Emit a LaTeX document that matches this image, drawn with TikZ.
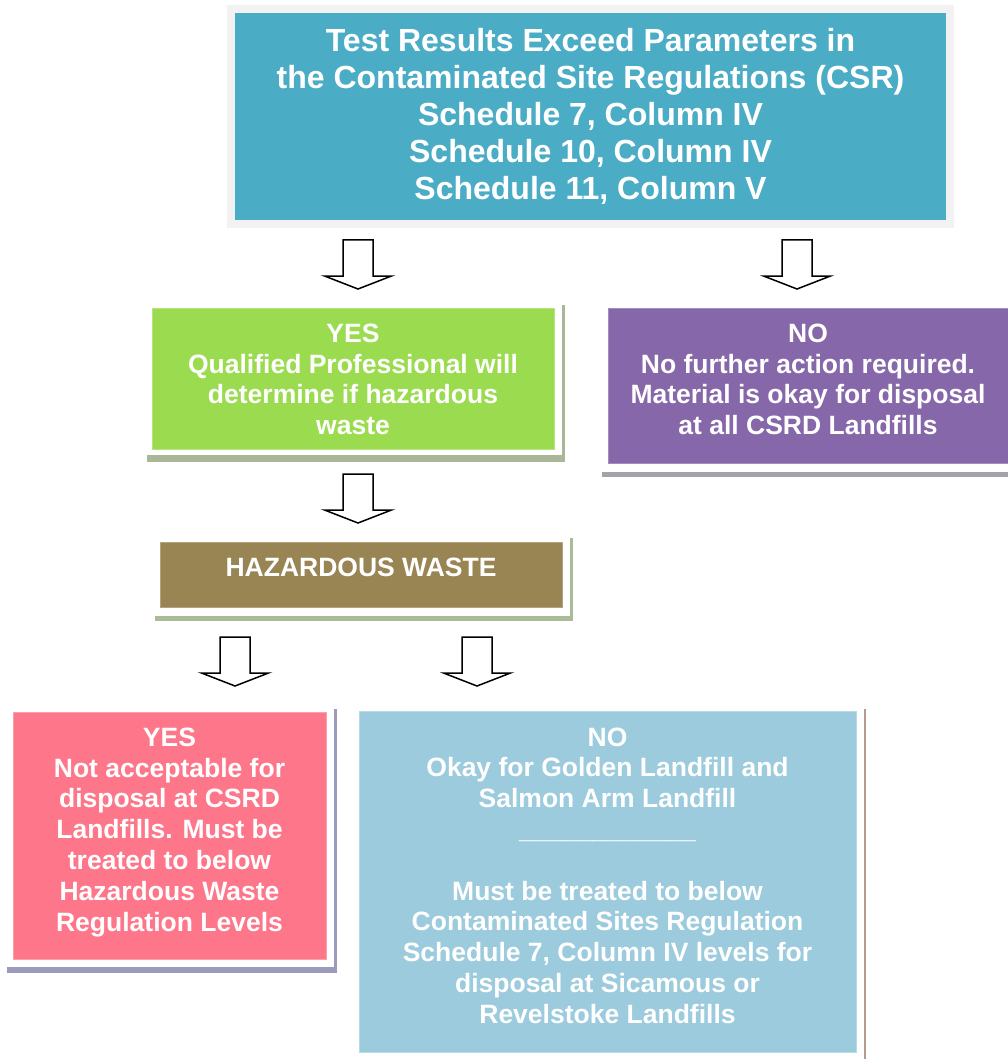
\documentclass[tikz,border=0pt]{standalone}
\usepackage{fontspec}
\setmainfont{Liberation Sans}
\definecolor{tealc}{HTML}{4BACC6}
\definecolor{framec}{HTML}{F2F2F2}
\definecolor{greenc}{HTML}{9BDB4F}
\definecolor{purplec}{HTML}{8667A9}
\definecolor{olivec}{HTML}{988553}
\definecolor{pinkc}{HTML}{FE7689}
\definecolor{bluec}{HTML}{9BCBDD}
\definecolor{gshadow}{HTML}{A9B697}
\definecolor{pshadow}{HTML}{A3A3AB}
\definecolor{oshadow}{HTML}{ABBB98}
\definecolor{kshadow}{HTML}{9B9BBD}
\definecolor{bshadow}{HTML}{B79A8D}
\tikzset{
  boxn/.style={rectangle, inner sep=0pt, outer sep=0pt, line width=0.8pt},
  txt/.style={text=white, font=\fontsize{26.5}{30.8}\selectfont\bfseries, align=center, inner sep=0pt},
  toptxt/.style={text=white, font=\fontsize{32}{36.9}\selectfont\bfseries, align=center, inner sep=0pt},
  blockarrow/.style={draw=black, fill=white, line width=1.5pt, line join=miter}
}
\newcommand{\barrow}[3]{%
  \coordinate (#1) at (#2,#3);
  \draw[blockarrow] (#1) ++(-15,0) -- ++(30,0) -- ++(0,36) -- ++(18.5,0)
     -- ++(-33.5,13) -- ++(-33.5,-13) -- ++(18.5,0) -- cycle;}
\begin{document}
\begin{tikzpicture}[x=1pt,y=-1pt]
\useasboundingbox (0,0) rectangle (1008,1059);
\fill[white] (0,0) rectangle (1008,1059);

% top box
\fill[framec] (227,5) rectangle (954,228);
\node[boxn, fill=tealc, minimum width=711pt, minimum height=207pt] (top) at (590.5,116.5) {};
\node[toptxt] (toptext) at (590.5,116.6) {Test Results Exceed Parameters in\\the Contaminated Site Regulations (CSR)\\Schedule 7, Column IV\\Schedule 10, Column IV\\Schedule 11, Column V};

% green box
\fill[gshadow] (147,305) rectangle (565,462);
\fill[white] (146,303) rectangle (562,455);
\node[boxn, fill=greenc, draw=greenc!75!white, minimum width=402pt, minimum height=141pt] (yes1) at (353,378.5) {};
\node[txt] (yes1text) at (353,379.3) {YES\\Qualified Professional will\\determine if hazardous\\waste};

% purple box
\fill[pshadow] (602,304) rectangle (1012,477);
\fill[white] (600,302) rectangle (1012,472);
\node[boxn, fill=purplec, draw=purplec!75!white, minimum width=402pt, minimum height=155pt] (no1) at (809,385.5) {};
\node[txt] (no1text) at (808,379.3) {NO\\No further action required.\\Material is okay for disposal\\at all CSRD Landfills};

% hazardous box
\fill[oshadow] (155,538) rectangle (573,621);
\fill[white] (153,536) rectangle (570,616);
\node[boxn, fill=olivec, draw=olivec!75!white, minimum width=402pt, minimum height=65pt] (haz) at (361,574.5) {};
\node[txt] (haztext) at (361,567.5) {HAZARDOUS WASTE};

% pink box
\fill[kshadow] (7,709) rectangle (337,973);
\fill[white] (5,707) rectangle (334,967);
\node[boxn, fill=pinkc, draw=pinkc!70!white, minimum width=313pt, minimum height=247pt] (yes2) at (169.5,835.5) {};
\node[txt] (yes2text) at (169.5,832.2) {YES\\Not acceptable for\\disposal at CSRD\\Landfills. Must be\\treated to below\\Hazardous Waste\\Regulation Levels};

% light blue box
\fill[bshadow] (354,709) rectangle (866,1070);
\fill[white] (352,707) rectangle (864,1070);
\node[boxn, fill=bluec, draw=bluec!70!white, minimum width=497pt, minimum height=341pt] (no2) at (607.5,881.5) {};
\node[txt] (no2text) at (607.5,875.6) {NO\\Okay for Golden Landfill and\\Salmon Arm Landfill\\\_\_\_\_\_\_\_\_\_\_\_\_\\\mbox{}\\Must be treated to below\\Contaminated Sites Regulation\\Schedule 7, Column IV levels for\\disposal at Sicamous or\\Revelstoke Landfills};

% block arrows
\barrow{a1}{358}{240}
\barrow{a2}{797}{240}
\barrow{a3}{358}{474}
\barrow{a4}{235}{637}
\barrow{a5}{477}{637}
\end{tikzpicture}
\end{document}
